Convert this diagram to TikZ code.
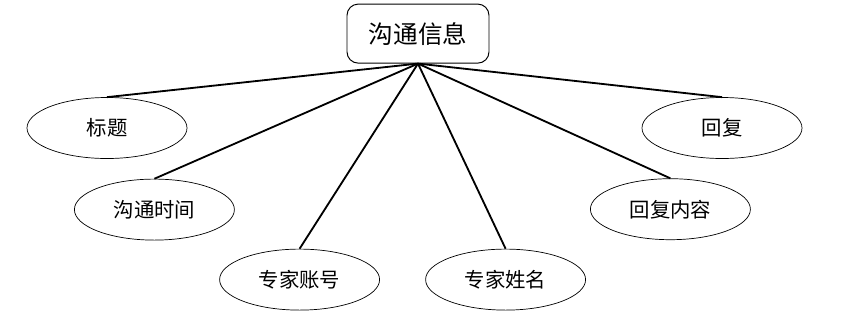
\documentclass[tikz,border=0pt]{standalone}
\usepackage{fontspec}
\newfontfamily\cjk{Noto Sans CJK SC}
\usetikzlibrary{shapes.geometric}
\begin{document}
\begin{tikzpicture}[x=1cm,y=1cm,
  entity/.style={draw, rectangle, rounded corners=0.28cm, line width=0.7pt, minimum width=3.55cm, minimum height=1.475cm, font=\cjk\fontsize{17.5}{20}\selectfont},
  attr/.style={draw, ellipse, line width=0.5pt, minimum width=4.0cm, minimum height=1.525cm, inner sep=0pt, font=\cjk\fontsize{14.5}{17}\selectfont},
  link/.style={line width=1.3pt}]
\useasboundingbox (0,0) rectangle (21.3,-8.3);
\node[entity] (info) at (10.45,-0.84) {沟通信息};
\node[attr] (title) at (2.675,-3.2) {标题};
\node[attr] (time) at (3.86,-5.24) {沟通时间};
\node[attr] (account) at (7.49,-6.99) {专家账号};
\node[attr] (name) at (12.64,-6.99) {专家姓名};
\node[attr] (content) at (16.76,-5.23) {回复内容};
\node[attr] (reply) at (18.05,-3.2) {回复};

\draw[link] (info.south) -- (title.north);
\draw[link] (info.south) -- (time.north);
\draw[link] (info.south) -- (account.north);
\draw[link] (info.south) -- (name.north);
\draw[link] (info.south) -- (content.north);
\draw[link] (info.south) -- (reply.north);
\end{tikzpicture}
\end{document}
